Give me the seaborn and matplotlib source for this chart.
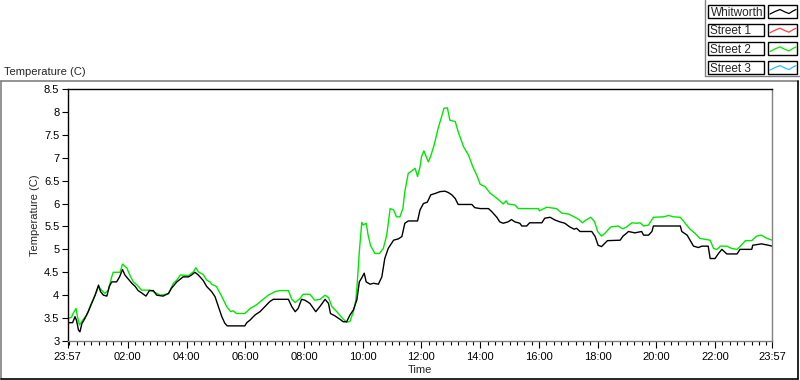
import numpy as np
import pandas as pd
import matplotlib
matplotlib.use("Agg")
import matplotlib.pyplot as plt
from matplotlib.lines import Line2D
from matplotlib.patches import Rectangle
import seaborn as sns

# ─────────────────────────────────────────────
# data: minutes after 23:57, temperature in C
# ─────────────────────────────────────────────
whitworth_min = [0, 1, 10, 15, 18, 22, 25, 29, 35, 42, 49, 56, 63, 67, 73, 80, 85, 90, 100, 106,
                 112, 117, 124, 131, 138, 144, 151, 160, 167, 175, 182, 195, 206, 212, 223, 236, 247, 253, 260, 267,
                 277, 284, 294, 301, 308, 315, 321, 326, 362, 366, 373, 383, 393, 403, 413, 420, 451, 458, 465, 471,
                 478, 485, 495, 507, 516, 526, 533, 537, 546, 557, 563, 570, 577, 584, 591, 596, 601, 606, 610, 618,
                 625, 635, 642, 648, 655, 666, 676, 683, 689, 696, 715, 720, 727, 735, 742, 751, 761, 771, 778, 785,
                 792, 798, 826, 832, 843, 860, 867, 877, 883, 890, 900, 907, 914, 924, 928, 938, 944, 969, 975, 986,
                 996, 1006, 1016, 1026, 1035, 1040, 1047, 1071, 1078, 1084, 1091, 1103, 1129, 1135, 1142, 1146, 1159, 1173, 1177, 1187,
                 1194, 1197, 1252, 1255, 1266, 1272, 1279, 1289, 1296, 1309, 1313, 1323, 1330, 1337, 1347, 1368, 1374, 1398, 1400, 1418,
                 1432, 1440]
whitworth_temp = [3.3, 3.4, 3.4, 3.53, 3.45, 3.24, 3.2, 3.38, 3.49, 3.64, 3.82, 4.0, 4.22, 4.08, 4.0, 3.98, 4.19, 4.29, 4.29, 4.4,
                  4.56, 4.44, 4.35, 4.26, 4.19, 4.1, 4.05, 3.98, 4.1, 4.1, 4.0, 3.98, 4.04, 4.15, 4.29, 4.4, 4.4, 4.44, 4.5, 4.44,
                  4.32, 4.19, 4.08, 3.97, 3.75, 3.53, 3.39, 3.33, 3.33, 3.4, 3.46, 3.57, 3.64, 3.75, 3.86, 3.91, 3.91, 3.75, 3.64, 3.71,
                  3.91, 3.89, 3.82, 3.64, 3.76, 3.91, 3.82, 3.6, 3.55, 3.47, 3.42, 3.42, 3.57, 3.68, 3.9, 4.29, 4.38, 4.48, 4.29, 4.24,
                  4.26, 4.24, 4.4, 4.8, 5.02, 5.2, 5.23, 5.28, 5.57, 5.62, 5.62, 5.86, 6.0, 6.03, 6.19, 6.22, 6.26, 6.27, 6.24, 6.19,
                  6.11, 5.98, 5.98, 5.91, 5.89, 5.89, 5.82, 5.7, 5.6, 5.57, 5.6, 5.65, 5.6, 5.57, 5.51, 5.51, 5.58, 5.58, 5.68, 5.7,
                  5.64, 5.6, 5.57, 5.49, 5.44, 5.46, 5.39, 5.39, 5.28, 5.09, 5.06, 5.19, 5.2, 5.29, 5.35, 5.39, 5.36, 5.39, 5.31, 5.31,
                  5.39, 5.51, 5.51, 5.39, 5.31, 5.2, 5.07, 5.04, 5.07, 5.07, 4.8, 4.8, 4.91, 5.0, 4.9, 4.9, 5.0, 5.0, 5.09, 5.12,
                  5.09, 5.07]

street2_min = [0, 1, 8, 11, 17, 20, 24, 31, 39, 47, 56, 63, 69, 76, 83, 90, 93, 107, 112, 121,
               127, 134, 142, 151, 168, 182, 189, 206, 216, 223, 230, 247, 257, 262, 267, 277, 284, 291, 294, 304,
               315, 325, 333, 338, 345, 362, 373, 386, 396, 410, 424, 434, 451, 458, 465, 475, 481, 495, 505, 516,
               526, 533, 540, 550, 557, 563, 570, 577, 584, 589, 592, 596, 601, 604, 610, 614, 619, 628, 637, 645,
               652, 659, 666, 672, 679, 685, 689, 696, 703, 710, 715, 720, 723, 728, 732, 737, 742, 749, 757, 764,
               769, 776, 781, 792, 798, 809, 819, 828, 836, 843, 853, 863, 873, 883, 890, 896, 900, 914, 921, 962,
               964, 979, 999, 1010, 1024, 1035, 1045, 1052, 1059, 1069, 1077, 1083, 1091, 1098, 1103, 1110, 1125, 1134, 1141, 1153,
               1163, 1170, 1177, 1187, 1197, 1218, 1228, 1238, 1252, 1262, 1272, 1282, 1292, 1303, 1313, 1320, 1327, 1334, 1347, 1357,
               1368, 1374, 1385, 1398, 1408, 1418, 1429, 1440]
street2_temp = [3.42, 3.49, 3.52, 3.6, 3.71, 3.53, 3.35, 3.46, 3.57, 3.79, 4.0, 4.19, 4.11, 4.04, 4.11, 4.4, 4.5, 4.5, 4.68, 4.59,
                4.44, 4.29, 4.22, 4.11, 4.11, 4.04, 4.0, 4.03, 4.26, 4.33, 4.44, 4.43, 4.51, 4.6, 4.51, 4.45, 4.33, 4.29, 4.24, 4.19,
                3.97, 3.75, 3.64, 3.66, 3.6, 3.6, 3.71, 3.79, 3.88, 4.0, 4.08, 4.1, 4.1, 3.91, 3.84, 3.93, 4.02, 4.02, 3.89, 3.91,
                4.0, 3.95, 3.75, 3.64, 3.55, 3.48, 3.41, 3.43, 3.65, 3.9, 4.3, 4.95, 5.59, 5.53, 5.57, 5.31, 5.08, 4.91, 4.91, 5.02,
                5.31, 5.89, 5.86, 5.71, 5.71, 5.89, 6.26, 6.66, 6.71, 6.77, 6.59, 6.8, 7.02, 7.15, 7.04, 6.91, 7.04, 7.28, 7.64, 7.89,
                8.08, 8.09, 7.82, 7.79, 7.57, 7.24, 7.06, 6.8, 6.62, 6.42, 6.37, 6.23, 6.15, 6.06, 5.99, 6.06, 5.99, 5.97, 5.89, 5.89,
                5.84, 5.92, 5.89, 5.79, 5.77, 5.71, 5.65, 5.58, 5.64, 5.7, 5.6, 5.39, 5.29, 5.35, 5.41, 5.49, 5.51, 5.45, 5.48, 5.58,
                5.57, 5.58, 5.51, 5.53, 5.7, 5.71, 5.74, 5.71, 5.7, 5.57, 5.44, 5.35, 5.24, 5.22, 5.2, 5.02, 5.0, 5.07, 5.07, 5.02,
                5.0, 5.06, 5.19, 5.19, 5.29, 5.31, 5.24, 5.2]

legend_names = ["Whitworth", "Street 1", "Street 2", "Street 3"]
legend_colors = ["#000000", "#ff4040", "#00e800", "#33bbff"]
x_tick_labels = ["23:57", "02:00", "04:00", "06:00", "08:00", "10:00", "12:00",
                 "14:00", "16:00", "18:00", "20:00", "22:00", "23:57"]
y_ticks = [3, 3.5, 4, 4.5, 5, 5.5, 6, 6.5, 7, 7.5, 8, 8.5]

# long form table for seaborn
df = pd.concat([
    pd.DataFrame({"minutes": street2_min, "temp": street2_temp, "sensor": "Street 2"}),
    pd.DataFrame({"minutes": whitworth_min, "temp": whitworth_temp, "sensor": "Whitworth"}),
])

sns.set_style("white")
plt.rcParams["font.family"] = ["Liberation Sans", "DejaVu Sans"]

W, H = 800, 380
fig = plt.figure(figsize=(8, 3.8), dpi=100)

def fx(px):
    return px / W

def fy(py):
    return 1 - py / H

ax = fig.add_axes([fx(67.7), fy(341), fx(772.3) - fx(67.7), fy(89) - fy(341)])

sns.lineplot(data=df, x="minutes", y="temp", hue="sensor", hue_order=["Street 2", "Whitworth"],
             palette={"Street 2": legend_colors[2], "Whitworth": legend_colors[0]},
             linewidth=1.0, errorbar=None, legend=False, ax=ax)

# x ticks from clock labels
start = 23 * 60 + 57
x_ticks = []
for i, lab in enumerate(x_tick_labels):
    h, m = lab.split(":")
    t = (int(h) * 60 + int(m) - start) % 1440
    if i == len(x_tick_labels) - 1:
        t = 1440
    x_ticks.append(t)
ax.set_xlim(0, 1440)
ax.set_xticks(x_ticks)
ax.set_xticklabels(x_tick_labels)
ax.set_xticks(np.arange(3, 1440, 15), minor=True)

ax.set_ylim(3, 8.5)
ax.set_yticks(y_ticks)
ax.set_yticklabels([f"{v:g}" for v in y_ticks])

ax.tick_params(axis="x", which="major", direction="out", length=5, width=0.8, colors="black",
               labelsize=8, pad=3, bottom=True)
ax.tick_params(axis="x", which="minor", direction="out", length=3, width=0.8, colors="black", bottom=True)
ax.tick_params(axis="y", which="major", direction="out", length=4.5, width=0.8, colors="black",
               labelsize=8, pad=1.5, left=True)

ax.set_xlabel("Time", fontsize=8, labelpad=2)
ax.set_ylabel("Temperature (C)", fontsize=8, labelpad=3)

for side in ["left", "top"]:
    ax.spines[side].set_color("black")
    ax.spines[side].set_linewidth(1.0)
for side in ["right", "bottom"]:
    ax.spines[side].set_color("#808080")
    ax.spines[side].set_linewidth(1.0)
for s in ax.spines.values():
    s.set_visible(True)

# outer panel border (gray top/left, black bottom/right)
fig.add_artist(Line2D([fx(0.5), fx(797.5)], [fy(80.5), fy(80.5)], color="#808080", lw=1.2))
fig.add_artist(Line2D([fx(0.5), fx(0.5)], [fy(80.5), fy(378.5)], color="#808080", lw=1.2))
fig.add_artist(Line2D([fx(0.5), fx(797.5)], [fy(378.5), fy(378.5)], color="black", lw=1.2))
fig.add_artist(Line2D([fx(797.5), fx(797.5)], [fy(80.5), fy(378.5)], color="black", lw=1.2))

fig.text(fx(4), fy(72), "Temperature (C)", fontsize=8, va="center", ha="left")

# LabVIEW style plot legend
fig.add_artist(Line2D([fx(705), fx(705)], [fy(0), fy(76)], color="#808080", lw=1))
fig.add_artist(Line2D([fx(705), fx(800)], [fy(76), fy(76)], color="#808080", lw=1))
zig_x = [2, 7, 12, 17, 21, 25, 28]
zig_y = [9, 6.5, 4.5, 7, 8.5, 6, 4.5]
for i, (name, col) in enumerate(zip(legend_names, legend_colors)):
    top = 5 + i * 18.7
    fig.add_artist(Rectangle((fx(708), fy(top + 12.5)), fx(55.5), 12.5 / H,
                             fill=False, edgecolor="black", lw=1))
    fig.add_artist(Rectangle((fx(768), fy(top + 12.5)), fx(29), 12.5 / H,
                             fill=False, edgecolor="black", lw=1))
    fig.text(fx(710.5), fy(top + 10.8), name, fontsize=8.5, va="baseline", ha="left")
    fig.add_artist(Line2D([fx(768 + zx) for zx in zig_x], [fy(top + zy) for zy in zig_y],
                          color=col, lw=0.9))

fig.savefig("out.png", dpi=100)
